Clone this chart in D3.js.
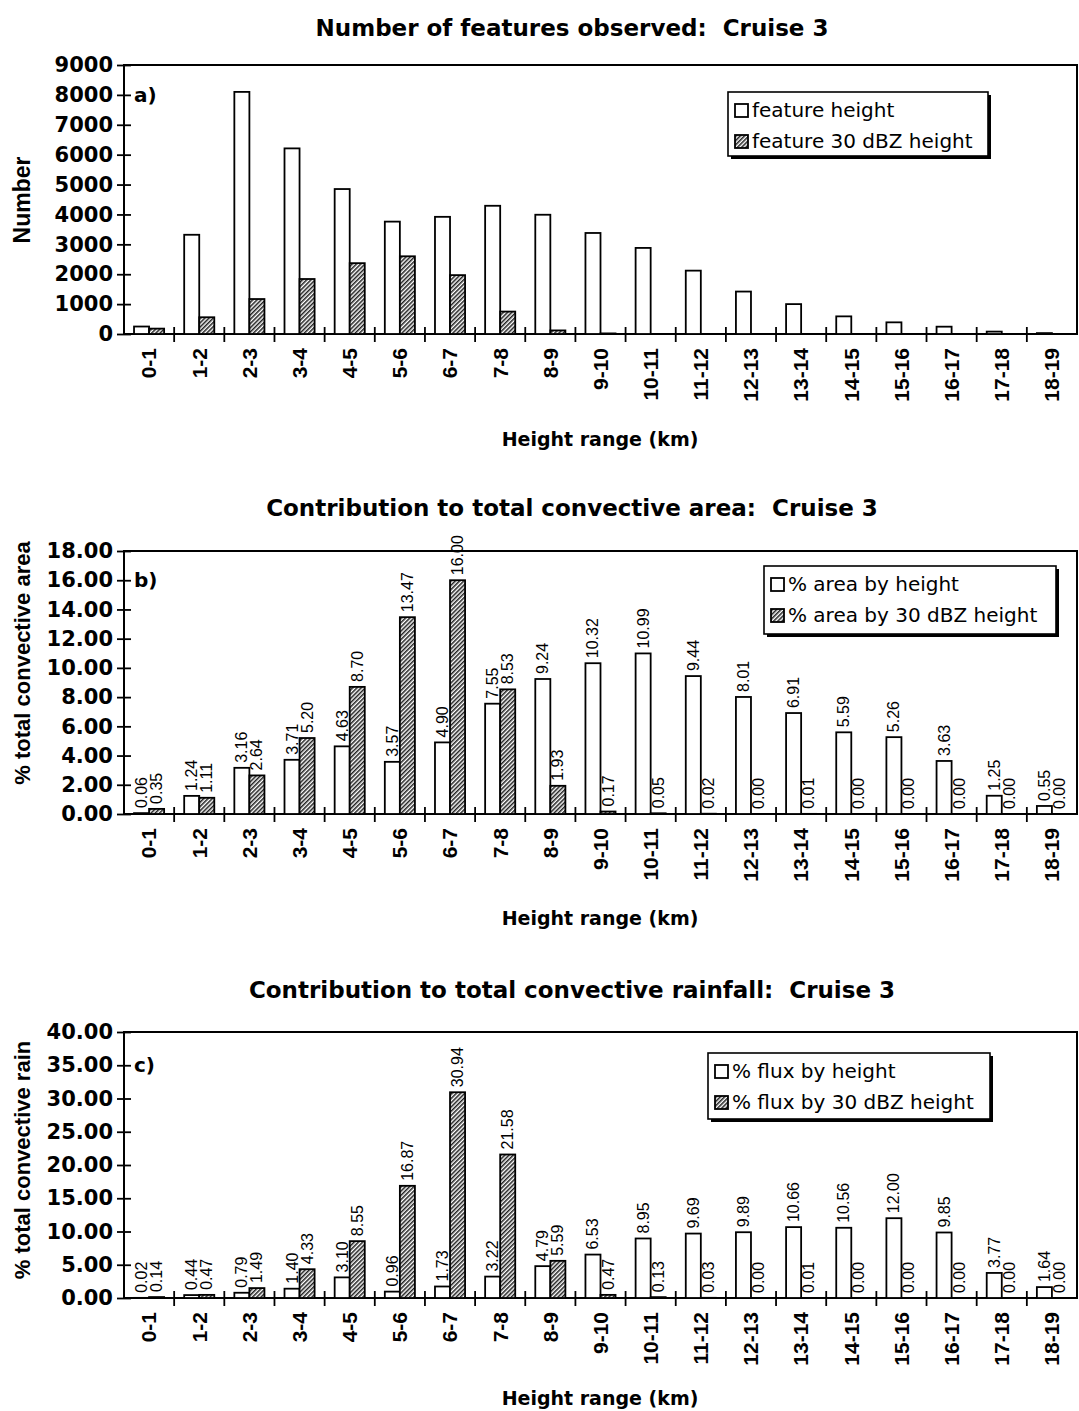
<!DOCTYPE html>
<html><head><meta charset="utf-8">
<script src="https://cdn.jsdelivr.net/npm/d3@7"></script>
<style>body{margin:0;background:#fff}svg{display:block}</style>
</head><body>
<svg id="chart" width="1079" height="1411"></svg>
<script>
// ---------- data ----------
const categories = ["0-1","1-2","2-3","3-4","4-5","5-6","6-7","7-8","8-9","9-10","10-11","11-12","12-13","13-14","14-15","15-16","16-17","17-18","18-19"];

const featureHeight  = [250,3320,8100,6210,4850,3760,3920,4290,3990,3380,2880,2120,1420,1000,590,390,245,80,30];
const feature30dBZ   = [180,560,1170,1840,2370,2600,1970,750,120,20,0,0,0,0,0,0,0,0,0];

const areaByHeight   = [0.06,1.24,3.16,3.71,4.63,3.57,4.90,7.55,9.24,10.32,10.99,9.44,8.01,6.91,5.59,5.26,3.63,1.25,0.55];
const areaBy30dBZ    = [0.35,1.11,2.64,5.20,8.70,13.47,16.00,8.53,1.93,0.17,0.05,0.02,0.00,0.01,0.00,0.00,0.00,0.00,0.00];

const fluxByHeight   = [0.02,0.44,0.79,1.40,3.10,0.96,1.73,3.22,4.79,6.53,8.95,9.69,9.89,10.66,10.56,12.00,9.85,3.77,1.64];
const fluxBy30dBZ    = [0.14,0.47,1.49,4.33,8.55,16.87,30.94,21.58,5.59,0.47,0.13,0.03,0.00,0.01,0.00,0.00,0.00,0.00,0.00];

const ticksA = [0,1000,2000,3000,4000,5000,6000,7000,8000,9000];
const ticksB = [0,2,4,6,8,10,12,14,16,18];
const ticksC = [0,5,10,15,20,25,30,35,40];

const titles  = ["Number of features observed:  Cruise 3",
                 "Contribution to total convective area:  Cruise 3",
                 "Contribution to total convective rainfall:  Cruise 3"];
const yTitles = ["Number","% total convective area","% total convective rain"];
const xTitle  = "Height range (km)";
const letters = ["a)","b)","c)"];
const legendsA = ["feature height","feature 30 dBZ height"];
const legendsB = ["% area by height","% area by 30 dBZ height"];
const legendsC = ["% flux by height","% flux by 30 dBZ height"];

// ---------- layout ----------
const HF = "'DejaVu Sans', sans-serif";
const RF = "'Liberation Sans', Arial, sans-serif";
const X0 = 124, X1 = 1077;

const panels = [
  {title:titles[0], yTitle:yTitles[0], yts:23, letter:letters[0], top:65, bottom:334, ticks:ticksA, fmt:d3.format("d"),
   s1:featureHeight, s2:feature30dBZ, labels:false, legend:legendsA, lb:{x:728,y:92,w:260,h:64},
   titleY:36, xTitleY:446, yTitleY:200, letterAt:8000},
  {title:titles[1], yTitle:yTitles[1], yts:22, letter:letters[1], top:551, bottom:814, ticks:ticksB, fmt:d3.format(".2f"),
   s1:areaByHeight, s2:areaBy30dBZ, labels:true, legend:legendsB, lb:{x:764,y:566,w:292,h:68},
   titleY:516, xTitleY:925, yTitleY:663, letterAt:16},
  {title:titles[2], yTitle:yTitles[2], yts:22, letter:letters[2], top:1032, bottom:1298, ticks:ticksC, fmt:d3.format(".2f"),
   s1:fluxByHeight, s2:fluxBy30dBZ, labels:true, legend:legendsC, lb:{x:708,y:1053,w:282,h:66},
   titleY:998, xTitleY:1405, yTitleY:1160, letterAt:35}
];

const svg = d3.select("#chart");
const defs = svg.append("defs");
const pat = defs.append("pattern").attr("id","hatch").attr("patternUnits","userSpaceOnUse")
  .attr("width",3).attr("height",3).attr("patternTransform","rotate(45)");
pat.append("rect").attr("width",3).attr("height",3).attr("fill","#fff");
pat.append("line").attr("x1",0.75).attr("y1",0).attr("x2",0.75).attr("y2",3).attr("stroke","#222").attr("stroke-width",1.6);

panels.forEach(p => {
  const g = svg.append("g");
  const x = d3.scaleBand().domain(categories).range([X0, X1]).padding(0);
  const bw = x.bandwidth();
  const xs = d3.scaleBand().domain(["h","z"]).range([bw*0.2, bw*0.8]).padding(0);
  const y = d3.scaleLinear().domain([0, d3.max(p.ticks)]).range([p.bottom, p.top]);

  // title
  g.append("text").attr("x",572).attr("y",p.titleY).attr("text-anchor","middle")
    .style("white-space","pre")
    .attr("font-family",HF).attr("font-weight","bold").attr("font-size",23).text(p.title);

  // frame
  g.append("rect").attr("x",X0).attr("y",p.top).attr("width",X1-X0).attr("height",p.bottom-p.top)
    .attr("fill","none").attr("stroke","#000").attr("stroke-width",2);

  // bars
  const rows = categories.map((c,i)=>({c, h:p.s1[i], z:p.s2[i]}));
  ["h","z"].forEach(k=>{
    g.selectAll(null).data(rows).join("rect")
      .attr("x",d=>x(d.c)+xs(k)).attr("y",d=>y(d[k]))
      .attr("width",xs.bandwidth()).attr("height",d=>p.bottom-y(d[k]))
      .attr("fill", k==="h" ? "#fff" : "url(#hatch)")
      .attr("stroke","#000").attr("stroke-width",1.8);
  });

  // value labels
  if (p.labels) {
    ["h","z"].forEach(k=>{
      g.selectAll(null).data(rows).join("text")
        .attr("transform",d=>`translate(${x(d.c)+xs(k)+xs.bandwidth()/2},${y(d[k])-5}) rotate(-90)`)
        .attr("text-anchor","start").attr("dominant-baseline","central")
        .attr("font-family",RF).attr("font-size",16).attr("fill","#000")
        .text(d=>d3.format(".2f")(d[k]));
    });
  }

  // y axis
  const ya = g.append("g").attr("transform",`translate(${X0},0)`)
    .call(d3.axisLeft(y).tickValues(p.ticks).tickFormat(p.fmt).tickSizeInner(7).tickSizeOuter(0));
  ya.select(".domain").remove();
  ya.selectAll(".tick line").attr("x1",7).attr("stroke-width",1.8);
  ya.selectAll(".tick text").attr("x",-11).attr("font-family",HF).attr("font-weight","bold")
    .attr("font-size",21).attr("fill","#000");

  // x axis (labels)
  const xa = g.append("g").attr("transform",`translate(0,${p.bottom})`)
    .call(d3.axisBottom(x).tickSize(0));
  xa.select(".domain").remove();
  xa.selectAll(".tick text").attr("transform","rotate(-90)").attr("x",-14).attr("y",0).attr("dy","0.35em")
    .attr("text-anchor","end").attr("font-family",RF).attr("font-weight","bold").attr("font-size",21).attr("fill","#000");
  // boundary ticks
  g.selectAll(null).data(categories.slice(1)).join("line")
    .attr("x1",d=>x(d)).attr("x2",d=>x(d)).attr("y1",p.bottom-7).attr("y2",p.bottom+8)
    .attr("stroke","#000").attr("stroke-width",1.8);

  // panel letter
  g.append("text").attr("x",X0+10).attr("y",y(p.letterAt)).attr("dominant-baseline","central")
    .attr("font-family",HF).attr("font-weight","bold").attr("font-size",20).text(p.letter);

  // axis titles
  g.append("text").attr("x",600).attr("y",p.xTitleY).attr("text-anchor","middle")
    .attr("font-family",HF).attr("font-weight","bold").attr("font-size",19).text(xTitle);
  g.append("text").attr("transform",`translate(22,${p.yTitleY}) rotate(-90)`).attr("text-anchor","middle")
    .attr("dominant-baseline","central").attr("font-family",RF).attr("font-weight","bold").attr("font-size",p.yts).text(p.yTitle);

  // legend
  const lb = p.lb;
  const lg = g.append("g").attr("transform",`translate(${lb.x},${lb.y})`);
  lg.append("rect").attr("x",3).attr("y",3).attr("width",lb.w).attr("height",lb.h).attr("fill","#000");
  lg.append("rect").attr("width",lb.w).attr("height",lb.h).attr("fill","#fff").attr("stroke","#000").attr("stroke-width",1.6);
  p.legend.forEach((t,i)=>{
    const cy = 18 + i*31;
    lg.append("rect").attr("x",7).attr("y",cy-6).attr("width",13).attr("height",13)
      .attr("fill", i===0 ? "#fff" : "url(#hatch)").attr("stroke","#000").attr("stroke-width",1.8);
    lg.append("text").attr("x",24).attr("y",cy).attr("dominant-baseline","central")
      .attr("font-family",HF).attr("font-size",20).attr("fill","#000").text(t);
  });
});
</script>
</body></html>
